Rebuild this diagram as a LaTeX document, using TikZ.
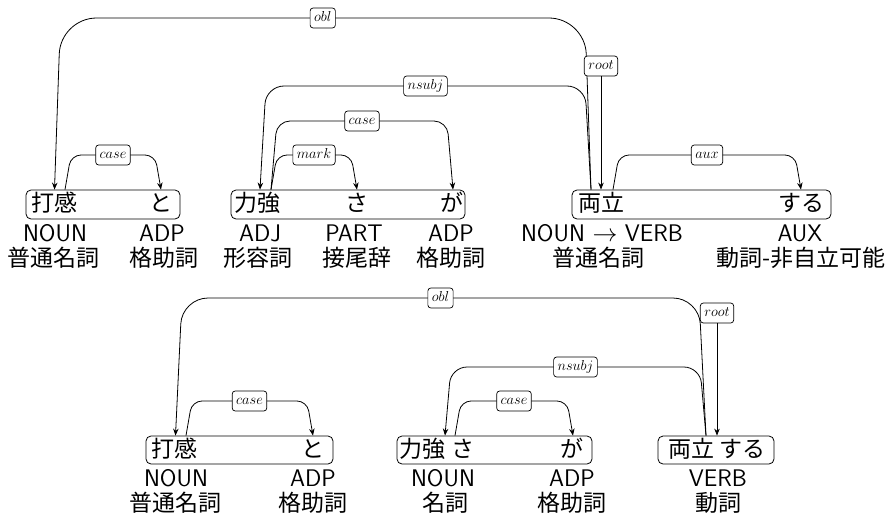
\documentclass[tikz,border=0pt]{standalone}
\usepackage{fontspec}
\newfontfamily\jpfont{Noto Sans CJK JP}
\usetikzlibrary{arrows.meta}
\tikzset{
  wordtxt/.style={font=\fontsize{23}{26}\selectfont\jpfont, inner sep=0pt, anchor=base},
  wbox/.style={draw, rounded corners=5pt, line width=0.8pt, inner sep=0pt, minimum height=29pt},
  tagtxt/.style={font=\fontsize{24}{28}\selectfont\sffamily, inner sep=0pt, anchor=base},
  jpl/.style={font=\fontsize{23}{26}\selectfont\jpfont, inner sep=0pt, anchor=base},
  lbl/.style={draw, fill=white, rounded corners=3pt, line width=0.7pt,
    font=\fontsize{15.3}{18}\selectfont, inner xsep=4pt, inner ysep=3pt,
    text height=10.5pt, text depth=3.5pt},
  dep/.style={draw, line width=0.8pt, -{Stealth[length=7pt,width=5.5pt]}},
}
\begin{document}
\begin{tikzpicture}[x=1pt,y=-1pt]
\useasboundingbox (0,0) rectangle (892,522);

% ---------------- top sentence ----------------
\node[wbox, minimum width=154pt] (tb1) at (103,204.5) {};
\node[wbox, minimum width=234pt] (tb2) at (348,204.5) {};
\node[wbox, minimum width=259pt] (tb3) at (701.5,204.5) {};

\node[wordtxt] (t1) at (54.5,211.5) {打感};
\node[wordtxt] (t2) at (161,211.5) {と};
\node[wordtxt] (t3) at (257,211.5) {力強};
\node[wordtxt] (t4) at (357,211.5) {さ};
\node[wordtxt] (t5) at (452,211.5) {が};
\node[wordtxt] (t6) at (601,211.5) {両立};
\node[wordtxt] (t7) at (801,211.5) {する};

\node[tagtxt] (tp1) at (55,241) {NOUN};
\node[tagtxt] (tp2) at (162,241) {ADP};
\node[tagtxt] (tp3) at (260,241) {ADJ};
\node[tagtxt] (tp4) at (354,241) {PART};
\node[tagtxt] (tp5) at (451,241) {ADP};
\node[tagtxt] (tp6) at (602,241) {NOUN $\rightarrow$ VERB};
\node[tagtxt] (tp7) at (800,241) {AUX};

\node[jpl] (tj1) at (54,266.5) {普通名詞};
\node[jpl] (tj2) at (164,266.5) {格助詞};
\node[jpl] (tj3) at (258,266.5) {形容詞};
\node[jpl] (tj4) at (357,266.5) {接尾辞};
\node[jpl] (tj5) at (451,266.5) {格助詞};
\node[jpl] (tj6) at (598,266.5) {普通名詞};
\node[jpl] (tj7) at (801,266.5) {動詞-非自立可能};

% arcs
\draw[dep, rounded corners=36pt] ([xshift=-10pt]t6.center |- tb3.north) -- ([xshift=-16pt]t6.center |- 0,18)
  -- node[lbl] (te1) {$obl$} ([xshift=6pt]t1.center |- 0,18) -- (t1.center |- tb1.north);
\draw[dep, rounded corners=18pt] ([xshift=-10pt]t6.center |- tb3.north) -- ([xshift=-16pt]t6.center |- 0,86)
  -- node[lbl] (te2) {$nsubj$} ([xshift=9pt]t3.center |- 0,86) -- ([xshift=3pt]t3.center |- tb2.north);
\draw[dep, rounded corners=13pt] ([xshift=14pt]t3.center |- tb2.north) -- ([xshift=20pt]t3.center |- 0,121)
  -- node[lbl] (te3) {$case$} ([xshift=-5pt]t5.center |- 0,121) -- ([xshift=1pt]t5.center |- tb2.north);
\draw[dep, rounded corners=10pt] ([xshift=14pt]t3.center |- tb2.north) -- ([xshift=20pt]t3.center |- 0,155)
  -- node[lbl] (te4) {$mark$} ([xshift=-6pt]t4.center |- 0,155) -- (t4.center |- tb2.north);
\draw[dep, rounded corners=10pt] ([xshift=10.5pt]t1.center |- tb1.north) -- ([xshift=16.5pt]t1.center |- 0,155)
  -- node[lbl] (te5) {$case$} ([xshift=-6pt]t2.center |- 0,155) -- (t2.center |- tb1.north);
\draw[dep, rounded corners=10pt] ([xshift=12pt]t6.center |- tb3.north) -- ([xshift=18pt]t6.center |- 0,155)
  -- node[lbl] (te6) {$aux$} ([xshift=-6pt]t7.center |- 0,155) -- (t7.center |- tb3.north);
\node[lbl] (tr) at (601,66) {$root$};
\draw[dep] (tr) -- (t6.center |- tb3.north);

% ---------------- bottom sentence ----------------
\node[wbox, minimum width=187pt, minimum height=28pt] (bb1) at (239.5,450) {};
\node[wbox, minimum width=195pt, minimum height=28pt] (bb2) at (494.5,450) {};
\node[wbox, minimum width=116pt, minimum height=28pt] (bb3) at (716,450) {};

\node[wordtxt] (s1) at (174.5,457.5) {打感};
\node[wordtxt] (s2) at (313,457.5) {と};
\node[wordtxt] (s3) at (437,457.5) {力強 さ};
\node[wordtxt] (s4) at (572,457.5) {が};
\node[wordtxt] (s5) at (717,457.5) {両立 する};

\node[tagtxt] (sp1) at (176,486) {NOUN};
\node[tagtxt] (sp2) at (313,486) {ADP};
\node[tagtxt] (sp3) at (443,486) {NOUN};
\node[tagtxt] (sp4) at (572,486) {ADP};
\node[tagtxt] (sp5) at (718,486) {VERB};

\node[jpl] (sj1) at (175,511.5) {普通名詞};
\node[jpl] (sj2) at (313,511.5) {格助詞};
\node[jpl] (sj3) at (445,511.5) {名詞};
\node[jpl] (sj4) at (572,511.5) {格助詞};
\node[jpl] (sj5) at (718,511.5) {動詞};

\draw[dep, rounded corners=26pt] ([xshift=-11pt]s5.center |- bb3.north) -- ([xshift=-18pt]s5.center |- 0,298)
  -- node[lbl] (se1) {$obl$} ([xshift=7.5pt]s1.center |- 0,298) -- ([xshift=1pt]s1.center |- bb1.north);
\draw[dep, rounded corners=16pt] ([xshift=-11pt]s5.center |- bb3.north) -- ([xshift=-17pt]s5.center |- 0,367)
  -- node[lbl] (se2) {$nsubj$} ([xshift=14pt]s3.center |- 0,367) -- ([xshift=8pt]s3.center |- bb2.north);
\draw[dep, rounded corners=10pt] ([xshift=18pt]s3.center |- bb2.north) -- ([xshift=24pt]s3.center |- 0,401)
  -- node[lbl] (se3) {$case$} ([xshift=-5pt]s4.center |- 0,401) -- ([xshift=1pt]s4.center |- bb2.north);
\draw[dep, rounded corners=10pt] ([xshift=11.5pt]s1.center |- bb1.north) -- ([xshift=17.5pt]s1.center |- 0,401)
  -- node[lbl] (se4) {$case$} ([xshift=-6pt]s2.center |- 0,401) -- (s2.center |- bb1.north);
\node[lbl] (sr) at (717,313) {$root$};
\draw[dep] (sr) -- (s5.center |- bb3.north);
\end{tikzpicture}
\end{document}
